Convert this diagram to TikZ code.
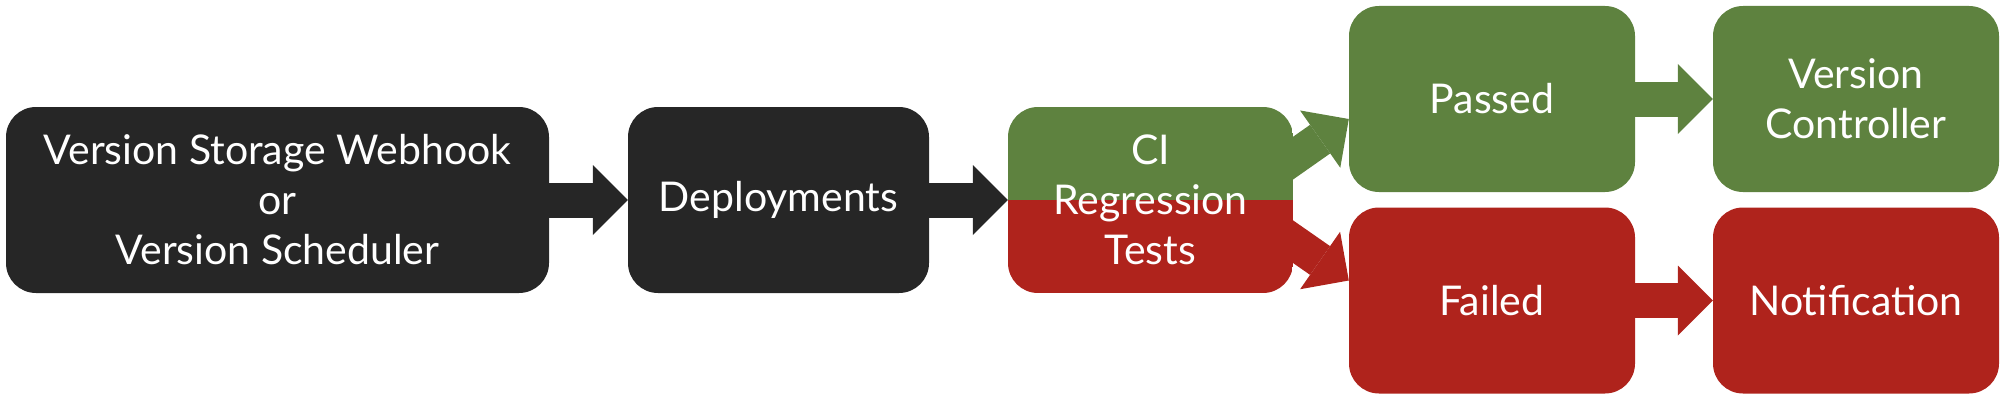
\documentclass[tikz,border=0pt]{standalone}
\usepackage{fontspec}
\setmainfont{Lato}
\usetikzlibrary{arrows.meta,backgrounds}
\definecolor{boxblack}{HTML}{262626}
\definecolor{boxgreen}{HTML}{5E823F}
\definecolor{boxred}{HTML}{AF231C}
\begin{document}
\begin{tikzpicture}[x=1pt,y=1pt,
    box/.style={rounded corners=30pt,minimum height=186pt,inner sep=0pt,align=center,
        text=white,font=\fontsize{41}{50}\selectfont},
    fat/.style={line width=35pt,-{Triangle[length=35pt,width=70pt,line width=0pt]}}]
    \useasboundingbox (0,0) rectangle (2006,400);
    \node[box,fill=boxblack,minimum width=543pt] (source) at (277.5,200) {Version Storage Webhook\\or\\Version Scheduler};
    \node[box,fill=boxblack,minimum width=301pt] (deploy) at (778.5,200) {Deployments};
    \node[box,minimum width=285pt,path picture={
        \fill[boxgreen,sharp corners] (path picture bounding box.north west) rectangle (path picture bounding box.east);
        \fill[boxred,sharp corners] (path picture bounding box.south west) rectangle (path picture bounding box.east);}]
        (ci) at (1150.5,200) {CI\\Regression\\Tests};
    \node[box,fill=boxgreen,minimum width=286pt] (passed) at (1492,301) {Passed};
    \node[box,fill=boxgreen,minimum width=286pt] (ctrl) at (1856,301) {Version\\Controller};
    \node[box,fill=boxred,minimum width=286pt] (failed) at (1492,99.5) {Failed};
    \node[box,fill=boxred,minimum width=286pt] (notify) at (1856,99.5) {Notification};
    \draw[fat,boxblack] (source) -- (deploy);
    \draw[fat,boxblack] (deploy) -- (ci);
    \draw[fat,boxgreen] (passed) -- (ctrl);
    \draw[fat,boxred] (failed) -- (notify);
    \begin{scope}[on background layer]
        \draw[fat,boxgreen] ([shift={(-27,23)}]ci.east) -- ([yshift=-20pt]passed.west);
        \draw[fat,boxred] ([shift={(-27,-23)}]ci.east) -- ([yshift=20pt]failed.west);
    \end{scope}
\end{tikzpicture}
\end{document}
